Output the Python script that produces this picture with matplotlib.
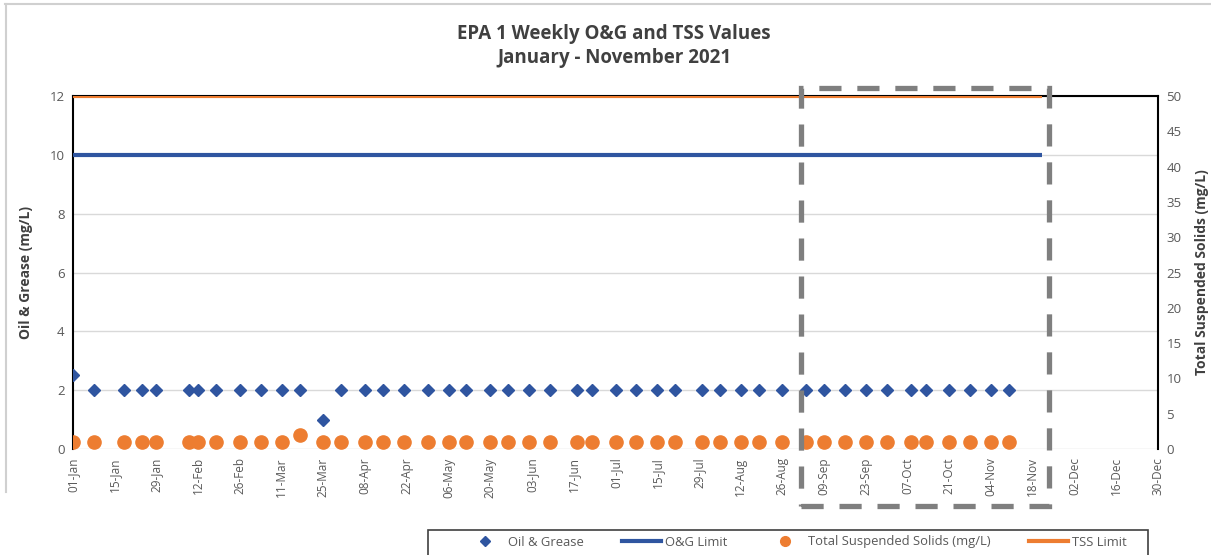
import matplotlib
matplotlib.use("Agg")
import matplotlib.pyplot as plt
import matplotlib.dates as mdates
from matplotlib.lines import Line2D
from matplotlib.patches import Rectangle
import datetime as dt

plt.rcParams['font.family'] = ['Open Sans', 'DejaVu Sans']

# ---- data ----
# (the chart's date axis runs on a leap-year calendar: 11-Mar follows 26-Feb)
sample_dates = ["2020-01-01", "2020-01-08", "2020-01-18", "2020-01-24", "2020-01-29",
                "2020-02-09", "2020-02-12", "2020-02-18", "2020-02-26", "2020-03-04",
                "2020-03-11", "2020-03-17", "2020-03-25", "2020-03-31", "2020-04-08",
                "2020-04-14", "2020-04-21", "2020-04-29", "2020-05-06", "2020-05-12",
                "2020-05-20", "2020-05-26", "2020-06-02", "2020-06-09", "2020-06-18",
                "2020-06-23", "2020-07-01", "2020-07-08", "2020-07-15", "2020-07-21",
                "2020-07-30", "2020-08-05", "2020-08-12", "2020-08-18", "2020-08-26",
                "2020-09-03", "2020-09-09", "2020-09-16", "2020-09-23", "2020-09-30",
                "2020-10-08", "2020-10-13", "2020-10-21", "2020-10-28", "2020-11-04",
                "2020-11-10"]
oil_grease = [2.5, 2, 2, 2, 2, 2, 2, 2, 2, 2, 2, 2, 1, 2, 2, 2, 2, 2, 2, 2,
              2, 2, 2, 2, 2, 2, 2, 2, 2, 2, 2, 2, 2, 2, 2, 2, 2, 2, 2, 2,
              2, 2, 2, 2, 2, 2]
tss = [1, 1, 1, 1, 1, 1, 1, 1, 1, 1, 1, 2, 1, 1, 1, 1, 1, 1, 1, 1,
       1, 1, 1, 1, 1, 1, 1, 1, 1, 1, 1, 1, 1, 1, 1, 1, 1, 1, 1, 1,
       1, 1, 1, 1, 1, 1]
limit_dates = ["2020-01-01", "2020-11-21"]
og_limit = [10, 10]
tss_limit = [50, 50]
x_start, x_end = "2020-01-01", "2020-12-30"

title = "EPA 1 Weekly O&G and TSS Values\nJanuary - November 2021"
left_label = "Oil & Grease (mg/L)"
right_label = "Total Suspended Solids (mg/L)"
legend_labels = ["Oil & Grease", "O&G Limit", "Total Suspended Solids (mg/L)", "TSS Limit"]

# ---- styling ----
BLUE = "#2F55A0"
ORANGE = "#ED7D31"
TICK = "#595959"
GRID = "#D9D9D9"

to_d = lambda s: dt.datetime.strptime(s, "%Y-%m-%d")
xd = [to_d(s) for s in sample_dates]
ld = [to_d(s) for s in limit_dates]

W, H = 1211, 555
fig = plt.figure(figsize=(W / 100, H / 100), dpi=100)
ax = fig.add_axes([73 / W, 1 - 449 / H, (1158 - 73) / W, (449 - 96) / H])
ax2 = ax.twinx()

ax.set_xlim(to_d(x_start), to_d(x_end))
ax.set_ylim(0, 12)
ax.set_yticks(range(0, 13, 2))
ax2.set_ylim(0, 50)
ax2.set_yticks(range(0, 51, 5))

ax.grid(axis='y', color=GRID, linewidth=1)
ax.set_axisbelow(True)

ax.plot(ld, og_limit, color=BLUE, linewidth=3, solid_capstyle='butt', zorder=3)
ax.plot(xd, oil_grease, linestyle='none', marker='D', markersize=6.5,
        color=BLUE, zorder=4)
ax2.plot(ld, tss_limit, color=ORANGE, linewidth=3, solid_capstyle='butt', zorder=3)
ax2.plot(xd, tss, linestyle='none', marker='o', markersize=9.5,
         color=ORANGE, zorder=4)

ticks = mdates.drange(to_d(x_start), to_d(x_end) + dt.timedelta(days=1),
                      dt.timedelta(days=14))
ax.set_xticks(ticks)
ax.xaxis.set_major_formatter(mdates.DateFormatter('%d-%b'))
for lab in ax.get_xticklabels():
    lab.set_rotation(90)

for a in (ax, ax2):
    a.tick_params(axis='both', length=0, labelsize=9.5, labelcolor=TICK, pad=6)
    for s in a.spines.values():
        s.set_visible(False)
ax.tick_params(axis='x', labelsize=8.5, pad=6)

ax.spines['left'].set_visible(True)
ax.spines['left'].set_color('black')
ax.spines['left'].set_linewidth(1.5)
ax2.spines['right'].set_visible(True)
ax2.spines['right'].set_color('black')
ax2.spines['right'].set_linewidth(1.5)
ax2.spines['top'].set_visible(True)
ax2.spines['top'].set_color('black')
ax2.spines['top'].set_linewidth(1.5)
ax2.spines['top'].set_zorder(1)

ax.set_ylabel(left_label, fontsize=10, fontweight='bold', color='#404040', labelpad=12)
fig.text(1202 / W, 1 - 272 / H, right_label, rotation=90, ha='center', va='center',
         fontsize=10, fontweight='bold', color='#404040')

fig.text(614 / W, 1 - 46 / H, title, ha='center', va='center', fontsize=13.5,
         fontweight='bold', color='#404040', linespacing=1.25)

# outer frame fragments
fig.add_artist(Line2D([5 / W, 1], [1 - 4 / H, 1 - 4 / H], transform=fig.transFigure,
                      color='#D0D0D0', linewidth=1.5))
fig.add_artist(Line2D([6 / W, 6 / W], [1 - 4 / H, 1 - 492 / H], transform=fig.transFigure,
                      color='#D0D0D0', linewidth=1.5))

# dashed highlight box
fig.add_artist(Rectangle((801 / W, 1 - 506 / H), (1049 - 801) / W, (506 - 88) / H,
                         transform=fig.transFigure, fill=False, edgecolor='#7F7F7F',
                         linewidth=3.8, linestyle=(0, (4.2, 3.0)), zorder=10))

# legend box (frame drawn separately, runs off the bottom edge like the reference)
fig.add_artist(Rectangle((428 / W, 1 - 565 / H), (1148 - 428) / W, (565 - 530) / H,
                         transform=fig.transFigure, fill=False, edgecolor='#404040',
                         linewidth=1.2))
handles = [
    Line2D([], [], linestyle='none', marker='D', markersize=5, color=BLUE),
    Line2D([], [], color=BLUE, linewidth=3),
    Line2D([], [], linestyle='none', marker='o', markersize=7, color=ORANGE),
    Line2D([], [], color=ORANGE, linewidth=3),
]
leg = fig.legend(handles, legend_labels, ncol=4, loc='center',
                 bbox_to_anchor=(796 / W, 1 - 542 / H), frameon=False,
                 fontsize=9.4, labelcolor=TICK, handlelength=3, columnspacing=2.9,
                 borderpad=0.4, handletextpad=0.3)

fig.savefig("out.png", dpi=100)
